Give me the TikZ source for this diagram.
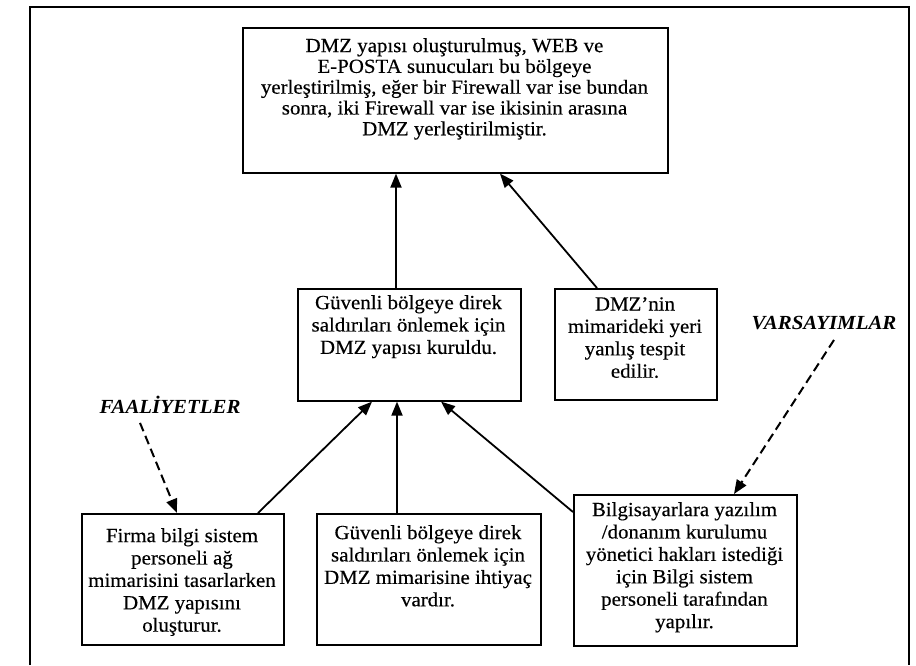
\documentclass[tikz,border=0pt]{standalone}
\usepackage{fontspec}
\setmainfont{Liberation Serif}[FakeStretch=1.045, UprightFeatures={FakeBold=0.35}]
\usetikzlibrary{arrows.meta}
\begin{document}
\begin{tikzpicture}[x=1pt,y=-1pt,
  panel/.style={draw, line width=1.6pt, rectangle, inner sep=0pt, anchor=north west},
  txt/.style={align=center, inner sep=0pt, anchor=north, font=\fontsize{20}{22.4}\selectfont},
  toptxt/.style={txt, font=\fontsize{20}{20.8}\selectfont},
  tag/.style={inner sep=0pt, font=\fontsize{20}{22}\selectfont\bfseries\itshape},
  arr/.style={line width=1.8pt, -{Triangle[length=14pt,width=11pt]}},
  darr/.style={arr, line width=2pt, dash pattern=on 9pt off 5pt}]
\useasboundingbox (0,0) rectangle (916,665);

% outer frame, open at the bottom
\draw[line width=1.8pt] (30,665) -- (30,7) -- (909,7) -- (909,665);

% boxes
\node[panel, minimum width=425pt, minimum height=145pt] (top) at (242,27) {};
\node[panel, minimum width=223pt, minimum height=112pt] (mid) at (297,288) {};
\node[panel, minimum width=162pt, minimum height=111pt] (dmz) at (554,288) {};
\node[panel, minimum width=202pt, minimum height=131pt] (fa) at (81,513) {};
\node[panel, minimum width=224pt, minimum height=131pt] (need) at (316,513) {};
\node[panel, minimum width=223pt, minimum height=151pt] (assum) at (573,494) {};

% box texts
\node[toptxt] (topt) at (454.5,38) {DMZ yapısı oluşturulmuş, WEB ve\\E-POSTA sunucuları bu bölgeye\\yerleştirilmiş, eğer bir Firewall var ise bundan\\sonra, iki Firewall var ise ikisinin arasına\\DMZ yerleştirilmiştir.};
\node[txt] (midt) at (408.5,295) {Güvenli bölgeye direk\\saldırıları önlemek için\\DMZ yapısı kuruldu.};
\node[txt] (dmzt) at (635,297) {DMZ’nin\\mimarideki yeri\\yanlış tespit\\edilir.};
\node[txt] (fat) at (182,528) {Firma bilgi sistem\\personeli ağ\\mimarisini tasarlarken\\DMZ yapısını\\oluşturur.};
\node[txt] (needt) at (428,525) {Güvenli bölgeye direk\\saldırıları önlemek için\\DMZ mimarisine ihtiyaç\\vardır.};
\node[txt] (assumt) at (684.5,502) {Bilgisayarlara yazılım\\/donanım kurulumu\\yönetici hakları istediği\\için Bilgi sistem\\personeli tarafından\\yapılır.};

% side tags
\node[tag] (faal) at (170,405) {FAALİYETLER};
\node[tag] (vars) at (824,323) {VARSAYIMLAR};

% solid connectors
\draw[arr] ([xshift=99pt]mid.north west) -- ([xshift=154pt]top.south west);
\draw[arr] ([xshift=43pt]dmz.north west) -- ([xshift=258pt]top.south west);
\draw[arr] ([xshift=177pt]fa.north west) -- ([xshift=75pt]mid.south west);
\draw[arr] ([xshift=81pt]need.north west) -- ([xshift=100pt]mid.south west);
\draw[arr] ([yshift=-18pt]assum.north west) -- ([xshift=144pt]mid.south west);

% dashed connectors from the tags
\draw[darr] ([xshift=-30pt,yshift=-9pt]faal.south) -- ([xshift=96pt]fa.north west);
\draw[darr] ([xshift=10pt,yshift=-10pt]vars.south) -- ([xshift=161pt]assum.north west);
\end{tikzpicture}
\end{document}
